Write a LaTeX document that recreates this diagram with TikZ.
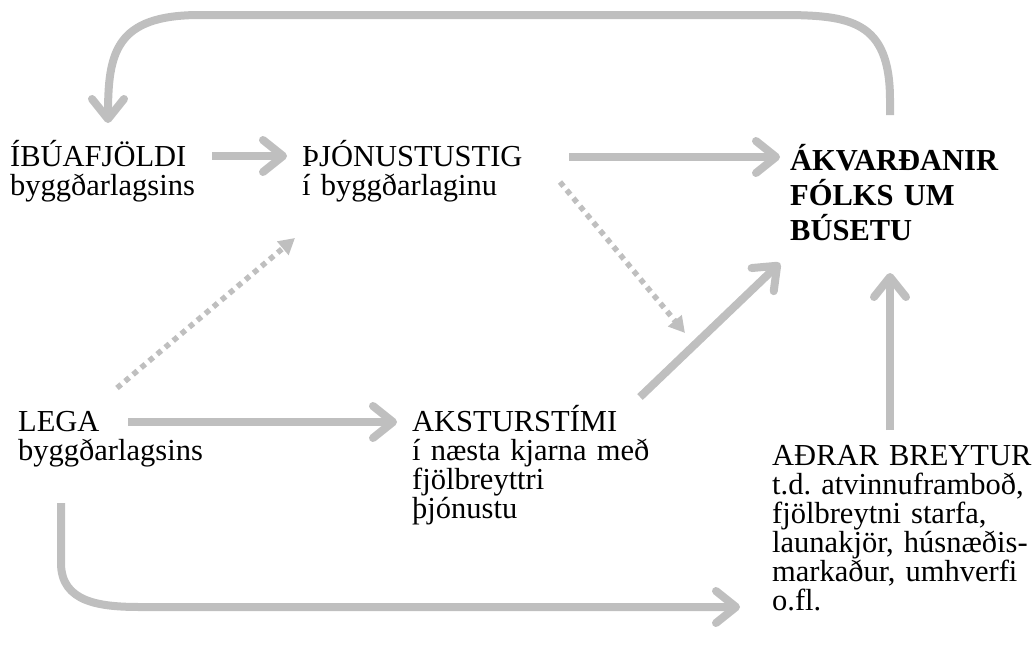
\documentclass[tikz,border=0pt]{standalone}
\usepackage{fontspec}
\setmainfont{Liberation Serif}[WordSpace=0.85]
\usetikzlibrary{arrows.meta}
\definecolor{lg}{RGB}{191,191,191}
\frenchspacing
\begin{document}
\begin{tikzpicture}[x=1pt,y=-1pt,
  txt/.style={anchor=base west, inner sep=0pt, text width=320pt,
    font=\fontsize{30.5}{29}\selectfont\frenchspacing\raggedright},
  btxt/.style={txt, font=\fontsize{30.5}{35}\selectfont\bfseries\frenchspacing\raggedright},
  arr/.style={draw=lg, line width=8pt, -{Straight Barb[length=20pt,width=32pt,round]}},
  dotarr/.style={draw=lg, line width=5.5pt, dash pattern=on 5.5pt off 5pt,
    -{Triangle[length=16pt,width=17pt]}}]
\useasboundingbox (0,0) rectangle (1035,648);

\node[txt] (ibua) at (10,166) {ÍBÚAFJÖLDI\\byggðarlagsins};
\node[txt] (thjo) at (302,166) {ÞJÓNUSTUSTIG\\í byggðarlaginu};
\node[btxt] (akv) at (790,170) {ÁKVARÐANIR\\FÓLKS UM\\BÚSETU};
\node[txt] (lega) at (18,431) {LEGA\\byggðarlagsins};
\node[txt] (akst) at (412,431) {AKSTURSTÍMI\\í næsta kjarna með\\fjölbreyttri\\þjónustu};
\node[txt] (adrar) at (772,465) {AÐRAR BREYTUR\\t.d. atvinnuframboð,\\fjölbreytni starfa,\\launakjör, húsnæðis-\\markaður, umhverfi\\o.fl.};

% straight arrows
\draw[arr] ([shift={(202,-10)}]ibua.base west) -- ([shift={(-15,-10)}]thjo.base west);
\draw[arr] ([shift={(267,-9)}]thjo.base west) -- ([shift={(-10,-13)}]akv.base west);
\draw[arr] ([shift={(110,-9)}]lega.base west) -- ([shift={(-15,-9)}]akst.base west);
\draw[arr] ([shift={(228,-34)}]akst.base west) -- ([shift={(-10,93)}]akv.base west);
\draw[arr] ([shift={(118,-35)}]adrar.base west) -- ([shift={(100,103)}]akv.base west);

% top feedback arrow
\draw[arr] ([shift={(100,-55)}]akv.base west) -- ++(0,-15)
  .. controls +(0,-80) and +(70,0) .. ++(-110,-85)
  -- ++(-580,0)
  .. controls +(-85,0) and +(0,-70) .. ([shift={(98,-43)}]ibua.base west);

% bottom arrow
\draw[arr] ([shift={(43,72)}]lega.base west) -- ++(0,60)
  .. controls +(0,40) and +(-40,0) .. ++(80,44)
  -- ([shift={(-32,142)}]adrar.base west);

% dotted arrows
\draw[dotarr] ([shift={(99,-43)}]lega.base west) -- ([shift={(-7,72)}]thjo.base west);
\draw[dotarr] ([shift={(258,16)}]thjo.base west) -- ([shift={(273,-98)}]akst.base west);
\end{tikzpicture}
\end{document}
